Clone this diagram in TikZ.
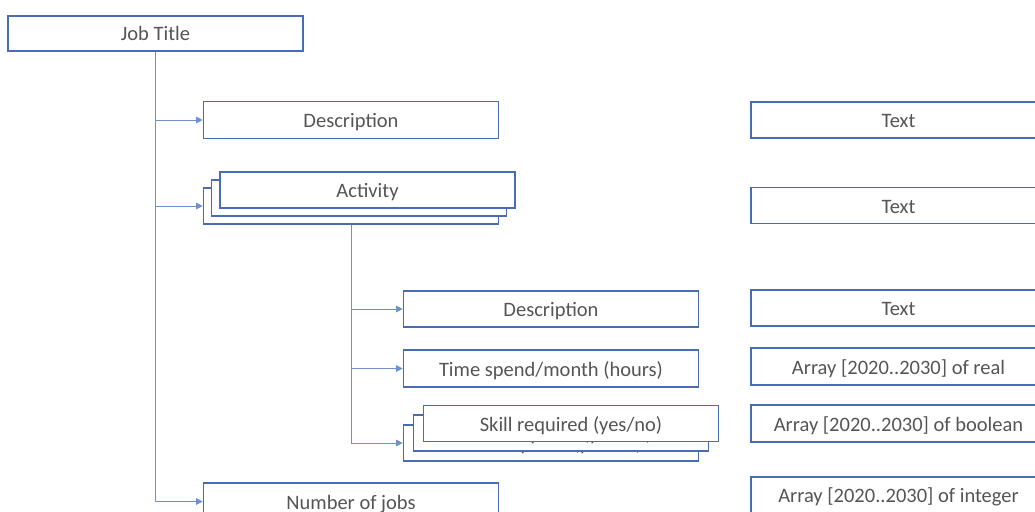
\documentclass[tikz,border=0pt]{standalone}
\usepackage{fontspec}
\setmainfont{Carlito}
\usetikzlibrary{arrows.meta}
\definecolor{boxblue}{HTML}{4A6CB3}
\definecolor{linkblue}{HTML}{6F8FCF}
\definecolor{labelgray}{HTML}{555555}
\tikzset{
  field/.style={draw=boxblue, line width=1.6pt, fill=white, minimum width=295pt,
    minimum height=36pt, inner sep=0pt, text=labelgray, text height=16pt,
    text depth=1pt, font=\fontsize{20.5}{23}\selectfont},
  link/.style={draw=linkblue, line width=1pt},
  linkarrow/.style={link, -{Triangle[length=6.5pt,width=6.5pt]}}
}
\begin{document}
\begin{tikzpicture}[x=1pt,y=-1pt]
\useasboundingbox (0,0) rectangle (1035,511);
\clip (0,0) rectangle (1035,511);

% record tree (left)
\node[field, minimum height=35pt] (job) at (155.5,33.5) {Job Title};
\node[field, minimum height=37pt] (desc) at (351,120) {Description};

% stacked "Activity" record
\node[field] (actback) at (351,206) {};
\node[field] (actmid) at (359,198) {};
\node[field] (act) at (367.5,190) {Activity};

\node[field] (subdesc) at (551,309) {Description};
\node[field, minimum height=37pt] (time) at (551,368.5) {Time spend/month (hours)};

% stacked "Skill" record
\node[field] (skillback) at (551,443) {Skill required (yes/no)};
\node[field] (skillmid) at (561,433) {Skill required (yes/no)};
\node[field] (skill) at (571,423.5) {Skill required (yes/no)};

\node[field, minimum height=37pt] (jobs) at (351,501.5) {Number of jobs};

% data types (right)
\node[field] (t1) at (898.5,120) {Text};
\node[field] (t2) at (898.5,205.5) {Text};
\node[field] (t3) at (898.5,308) {Text};
\node[field, minimum height=37pt] (t4) at (898.5,366.5) {Array [2020..2030] of real};
\node[field, minimum height=37pt] (t5) at (898.5,423.5) {Array [2020..2030] of boolean};
\node[field] (t6) at (898.5,495) {Array [2020..2030] of integer};

% connectors
\draw[link] (job.south) -- (job.south |- jobs.west);
\draw[linkarrow] (job.south |- desc.west) -- (desc.west);
\draw[linkarrow] (job.south |- actback.west) -- (actback.west);
\draw[linkarrow] (job.south |- jobs.west) -- (jobs.west);

\draw[link] (actback.south) -- (actback.south |- skillback.west);
\draw[linkarrow] (actback.south |- subdesc.west) -- (subdesc.west);
\draw[linkarrow] (actback.south |- time.west) -- (time.west);
\draw[linkarrow] (actback.south |- skillback.west) -- (skillback.west);
\end{tikzpicture}
\end{document}
